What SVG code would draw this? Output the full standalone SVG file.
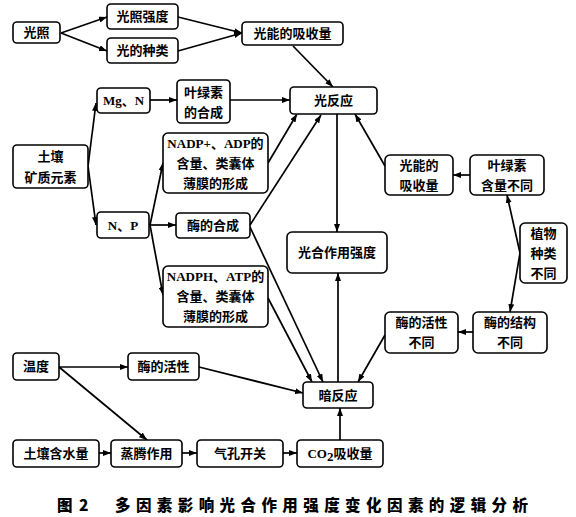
<svg xmlns="http://www.w3.org/2000/svg" width="576" height="517" viewBox="0 0 576 517">
<defs>
<style>
.n rect{fill:#fff;stroke:#000;stroke-width:1.6}
text{font-family:"Noto Sans CJK SC","Noto Sans",sans-serif;font-weight:bold;font-size:13px;text-anchor:middle;fill:#000}
.lat{font-family:"Liberation Serif","Noto Sans CJK SC",serif;font-size:13px}
#edges path{fill:none;stroke:#000;stroke-width:1.7;marker-end:url(#ah)}
.cap{font-size:15.5px;font-weight:900;text-anchor:start}
</style>
<marker id="ah" viewBox="0 0 8 6" refX="8" refY="3" markerWidth="8" markerHeight="6" markerUnits="userSpaceOnUse" orient="auto">
<path d="M0,0 L8,3 L0,6 z" fill="#000"/>
</marker>
</defs>
<rect width="576" height="517" fill="#fff"/>
<g id="edges">
<path d="M61,33 L107,17"/>
<path d="M61,33 L107,51"/>
<path d="M178,17 L242,33"/>
<path d="M178,51 L242,33"/>
<path d="M293,46 L333,87"/>
<path d="M150,100 L177,100"/>
<path d="M230,100 L290,100"/>
<path d="M88,166 L96,103"/>
<path d="M88,166 L96,225"/>
<path d="M149,225 L176,225"/>
<path d="M150,225 L163,163"/>
<path d="M150,225 L163,295"/>
<path d="M268,163 L297,114"/>
<path d="M250,225 L321,115"/>
<path d="M250,227 L323,382"/>
<path d="M268,298 L312,382"/>
<path d="M337,114 L337,232"/>
<path d="M338,382 L338,273"/>
<path d="M385,166 L355,114"/>
<path d="M470,175 L453,175"/>
<path d="M520,253 L507,195"/>
<path d="M520,253 L510,312"/>
<path d="M473,332 L458,332"/>
<path d="M385,335 L358,382"/>
<path d="M59,367 L128,367"/>
<path d="M59,367 L147,440"/>
<path d="M199,367 L303,393"/>
<path d="M99,453 L111,453"/>
<path d="M182,453 L197,453"/>
<path d="M283,453 L297,453"/>
<path d="M340,440 L340,408"/>
</g>
<g id="n1" class="n"><rect x="13" y="22" width="47" height="21" rx="4"/><text x="36.5" y="37">光照</text></g>
<g id="n2" class="n"><rect x="107" y="4" width="71" height="25" rx="4"/><text x="142.5" y="21">光照强度</text></g>
<g id="n3" class="n"><rect x="107" y="38" width="71" height="25" rx="4"/><text x="142.5" y="55">光的种类</text></g>
<g id="n4" class="n"><rect x="242" y="22" width="101" height="23" rx="4"/><text x="292.5" y="38">光能的吸收量</text></g>
<g id="n5" class="n"><rect x="97" y="88" width="53" height="25" rx="4"/><text class="lat" x="123.5" y="105">Mg、N</text></g>
<g id="n6" class="n"><rect x="177" y="80" width="53" height="43" rx="4"/><text x="203.5" y="96.5">叶绿素</text><text x="203.5" y="116.5">的合成</text></g>
<g id="n7" class="n"><rect x="290" y="87" width="87" height="27" rx="4"/><text x="333.5" y="105">光反应</text></g>
<g id="n8" class="n"><rect x="13" y="145" width="75" height="43" rx="4"/><text x="50.5" y="160.5">土壤</text><text x="50.5" y="181.5">矿质元素</text></g>
<g id="n9" class="n"><rect x="163" y="133" width="105" height="60" rx="5"/><text x="215.5" y="147.5"><tspan class="lat">NADP+</tspan>、<tspan class="lat">ADP</tspan>的</text><text x="215.5" y="167.5">含量、类囊体</text><text x="215.5" y="187.5">薄膜的形成</text></g>
<g id="n10" class="n"><rect x="97" y="212" width="52" height="26" rx="4"/><text class="lat" x="123" y="229.5">N、P</text></g>
<g id="n11" class="n"><rect x="176" y="213" width="74" height="25" rx="4"/><text x="213" y="230">酶的合成</text></g>
<g id="n12" class="n"><rect x="163" y="266" width="105" height="61" rx="5"/><text x="215.5" y="281"><tspan class="lat">NADPH</tspan>、<tspan class="lat">ATP</tspan>的</text><text x="215.5" y="301">含量、类囊体</text><text x="215.5" y="321">薄膜的形成</text></g>
<g id="n13" class="n"><rect x="287" y="232" width="100" height="41" rx="5"/><text x="337" y="257">光合作用强度</text></g>
<g id="n14" class="n"><rect x="385" y="155" width="68" height="40" rx="5"/><text x="419" y="169.5">光能的</text><text x="419" y="189.5">吸收量</text></g>
<g id="n15" class="n"><rect x="470" y="155" width="74" height="40" rx="5"/><text x="507" y="169.5">叶绿素</text><text x="507" y="189.5">含量不同</text></g>
<g id="n16" class="n"><rect x="520" y="223" width="47" height="60" rx="5"/><text x="543.5" y="237.5">植物</text><text x="543.5" y="257.5">种类</text><text x="543.5" y="277.5">不同</text></g>
<g id="n17" class="n"><rect x="385" y="312" width="73" height="41" rx="5"/><text x="421.5" y="326.5">酶的活性</text><text x="421.5" y="346.5">不同</text></g>
<g id="n18" class="n"><rect x="473" y="312" width="74" height="41" rx="5"/><text x="510" y="326.5">酶的结构</text><text x="510" y="346.5">不同</text></g>
<g id="n19" class="n"><rect x="13" y="353" width="46" height="27" rx="4"/><text x="36" y="371">温度</text></g>
<g id="n20" class="n"><rect x="128" y="353" width="71" height="27" rx="4"/><text x="163.5" y="371">酶的活性</text></g>
<g id="n21" class="n"><rect x="303" y="382" width="70" height="26" rx="4"/><text x="338" y="399.5">暗反应</text></g>
<g id="n22" class="n"><rect x="13" y="440" width="86" height="27" rx="4"/><text x="56" y="458">土壤含水量</text></g>
<g id="n23" class="n"><rect x="111" y="440" width="71" height="27" rx="4"/><text x="146.5" y="458">蒸腾作用</text></g>
<g id="n24" class="n"><rect x="197" y="440" width="86" height="27" rx="4"/><text x="240" y="458">气孔开关</text></g>
<g id="n25" class="n"><rect x="297" y="440" width="86" height="27" rx="4"/><text x="340" y="458"><tspan class="lat">CO</tspan><tspan class="lat" font-size="9" dy="3">2</tspan><tspan dy="-3">吸收量</tspan></text></g>
<g id="caption">
<text class="cap" x="57" y="511">图</text>
<text class="cap" x="79" y="511">2</text>
<text class="cap" x="115" y="511" textLength="413" lengthAdjust="spacing">多因素影响光合作用强度变化因素的逻辑分析</text>
</g>
</svg>
